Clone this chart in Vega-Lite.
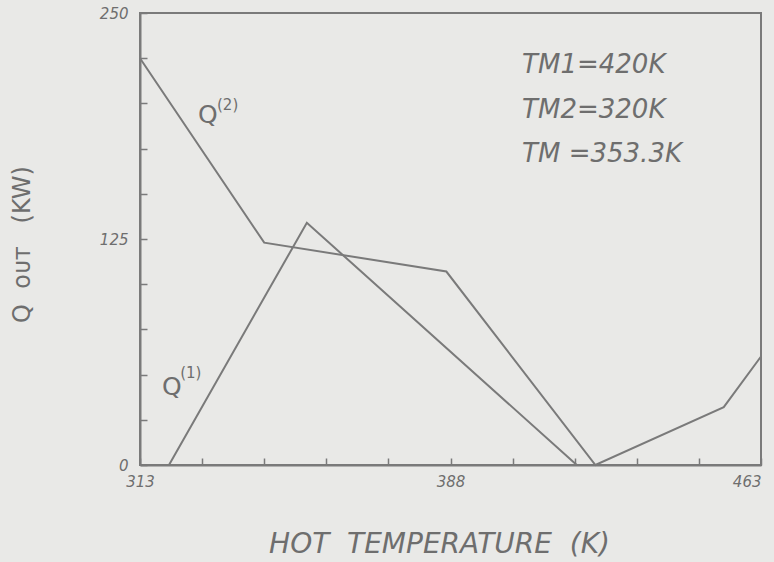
{
  "$schema": "https://vega.github.io/schema/vega-lite/v6.json",
  "width": 621,
  "height": 452,
  "autosize": {"type": "none"},
  "padding": {"left": 140, "top": 13, "right": 13, "bottom": 97},
  "background": "#e9e9e7",
  "config": {
    "view": {"stroke": "#7a7a7a", "strokeWidth": 2},
    "font": "DejaVu Sans"
  },
  "datasets": {
    "curves": [
      {"series": "Q2", "T": 313, "Q": 225},
      {"series": "Q2", "T": 343, "Q": 123},
      {"series": "Q2", "T": 387, "Q": 107},
      {"series": "Q2", "T": 423, "Q": 0},
      {"series": "Q2", "T": 454, "Q": 32},
      {"series": "Q2", "T": 463, "Q": 60},
      {"series": "Q1", "T": 320, "Q": 0},
      {"series": "Q1", "T": 353.3, "Q": 134},
      {"series": "Q1", "T": 418.5, "Q": 0}
    ]
  },
  "layer": [
    {
      "data": {"name": "curves"},
      "mark": {"type": "line", "color": "#7a7a7a", "strokeWidth": 2},
      "encoding": {
        "x": {
          "field": "T", "type": "quantitative",
          "scale": {"domain": [313, 463], "nice": false, "zero": false},
          "axis": {
            "values": [313, 328, 343, 358, 373, 388, 403, 418, 433, 448, 463],
            "labelExpr": "(datum.value == 313 || datum.value == 388 || datum.value == 463) ? datum.value : ''",
            "grid": false,
            "tickSize": -7,
            "tickColor": "#7a7a7a",
            "tickWidth": 1.5,
            "domainColor": "#7a7a7a",
            "domainWidth": 2,
            "labelFontSize": 15,
            "labelFontStyle": "italic",
            "labelColor": "#6e6e6e",
            "labelPadding": 16,
            "labelFlush": false,
            "labelAlign": {"condition": {"test": "datum.value == 463", "value": "right"}, "value": "center"},
            "title": "HOT\u00a0\u00a0TEMPERATURE\u00a0\u00a0(K)",
            "titleFontSize": 28,
            "titleFontWeight": "normal",
            "titleFontStyle": "italic",
            "titleColor": "#6e6e6e",
            "titleX": 299,
            "titleY": 87,
            "titleAlign": "center",
            "titleBaseline": "alphabetic",
            "titleAnchor": null
          }
        },
        "y": {
          "field": "Q", "type": "quantitative",
          "scale": {"domain": [0, 250], "nice": false},
          "axis": {
            "values": [0, 25, 50, 75, 100, 125, 150, 175, 200, 225, 250],
            "labelExpr": "(datum.value == 0 || datum.value == 125 || datum.value == 250) ? datum.value : ''",
            "grid": false,
            "tickSize": -7,
            "tickColor": "#7a7a7a",
            "tickWidth": 1.5,
            "domainColor": "#7a7a7a",
            "domainWidth": 2,
            "labelFontSize": 15,
            "labelFontStyle": "italic",
            "labelColor": "#6e6e6e",
            "labelPadding": 19,
            "labelFlush": false,
            "title": "Q\u00a0\u00a0ᴏᴜᴛ\u00a0\u00a0\u00a0(KW)",
            "titleFontSize": 24,
            "titleFontWeight": "normal",
            "titleColor": "#6e6e6e",
            "titleX": -118,
            "titleY": 231,
            "titleAlign": "center",
            "titleBaseline": "middle",
            "titleAnchor": null
          }
        },
        "detail": {"field": "series"}
      }
    },
    {
      "data": {"values": [{}]},
      "mark": {"type": "text", "text": "Q", "align": "left", "baseline": "alphabetic", "fontSize": 25, "color": "#6e6e6e"},
      "encoding": {"x": {"datum": 327}, "y": {"datum": 189}}
    },
    {
      "data": {"values": [{}]},
      "mark": {"type": "text", "text": "(2)", "align": "left", "baseline": "alphabetic", "fontSize": 15, "color": "#6e6e6e"},
      "encoding": {"x": {"datum": 331.6}, "y": {"datum": 196.3}}
    },
    {
      "data": {"values": [{}]},
      "mark": {"type": "text", "text": "Q", "align": "left", "baseline": "alphabetic", "fontSize": 25, "color": "#6e6e6e"},
      "encoding": {"x": {"datum": 318.3}, "y": {"datum": 38.7}}
    },
    {
      "data": {"values": [{}]},
      "mark": {"type": "text", "text": "(1)", "align": "left", "baseline": "alphabetic", "fontSize": 15, "color": "#6e6e6e"},
      "encoding": {"x": {"datum": 322.7}, "y": {"datum": 48.1}}
    },
    {
      "data": {"values": [{}]},
      "mark": {"type": "text", "text": ["TM1=420K", "TM2=320K", "TM =353.3K"], "lineHeight": 44.5, "align": "left", "baseline": "alphabetic", "fontSize": 26, "fontStyle": "italic", "color": "#6e6e6e"},
      "encoding": {"x": {"datum": 405.3}, "y": {"datum": 216.8}}
    }
  ]
}
